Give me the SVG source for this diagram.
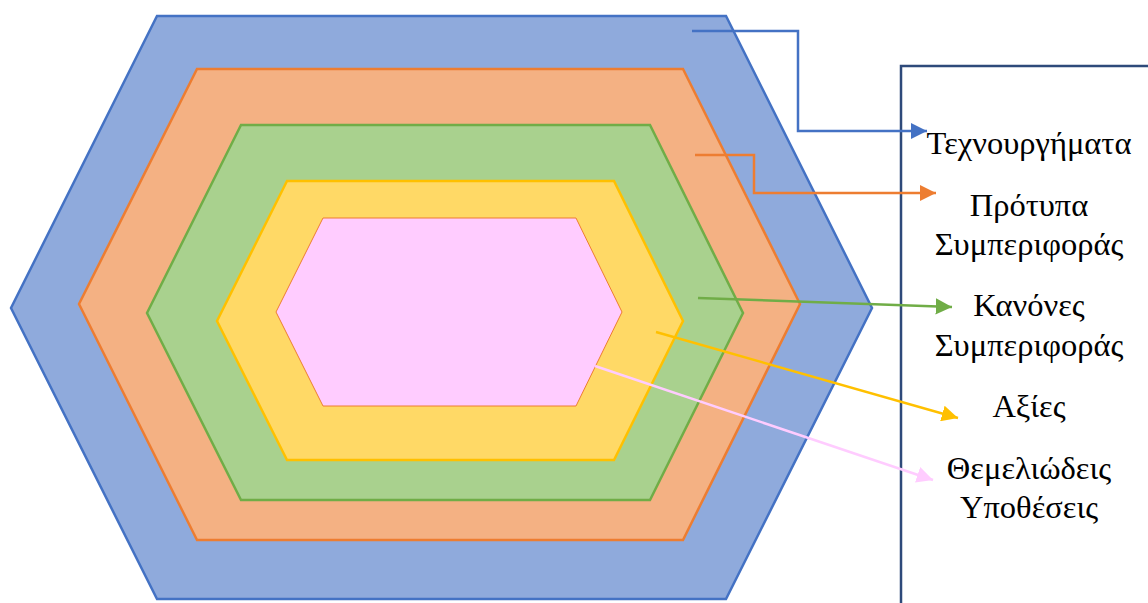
<svg xmlns="http://www.w3.org/2000/svg" width="1148" height="603" viewBox="0 0 1148 603">
<style>
.lbl{font-family:"Liberation Serif","DejaVu Serif",serif;font-size:32.5px;fill:#000;text-anchor:middle}
.conn{fill:none;stroke-width:2.5}
</style>
<defs>
<marker id="aB" viewBox="0 0 10 10" refX="10" refY="5" markerWidth="6.5" markerHeight="6.5" markerUnits="strokeWidth" orient="auto"><path d="M0,0 L10,5 L0,10 z" fill="#4472C4"/></marker>
<marker id="aO" viewBox="0 0 10 10" refX="10" refY="5" markerWidth="6.5" markerHeight="6.5" markerUnits="strokeWidth" orient="auto"><path d="M0,0 L10,5 L0,10 z" fill="#ED7D31"/></marker>
<marker id="aG" viewBox="0 0 10 10" refX="10" refY="5" markerWidth="6.5" markerHeight="6.5" markerUnits="strokeWidth" orient="auto"><path d="M0,0 L10,5 L0,10 z" fill="#70AD47"/></marker>
<marker id="aY" viewBox="0 0 10 10" refX="10" refY="5" markerWidth="6.5" markerHeight="6.5" markerUnits="strokeWidth" orient="auto"><path d="M0,0 L10,5 L0,10 z" fill="#FFC000"/></marker>
<marker id="aP" viewBox="0 0 10 10" refX="10" refY="5" markerWidth="6.5" markerHeight="6.5" markerUnits="strokeWidth" orient="auto"><path d="M0,0 L10,5 L0,10 z" fill="#FFCCFF"/></marker>
</defs>
<rect width="1148" height="603" fill="#fff"/>
<g id="box"><rect x="901" y="66" width="260" height="560" fill="none" stroke="#2E4A7A" stroke-width="2.5"/></g>
<g id="hex-blue"><polygon points="157,16 726,16 872,308 726,599 157,599 11,308" fill="#8FAADC" stroke="#4472C4" stroke-width="2.5"/></g>
<g id="hex-orange"><polygon points="197,69 683,69 800,304 683,540 197,540 79,304" fill="#F4B183" stroke="#ED7D31" stroke-width="2.5"/></g>
<g id="hex-green"><polygon points="241,125 650,125 743,313 650,500 241,500 147,313" fill="#A9D18E" stroke="#70AD47" stroke-width="2.5"/></g>
<g id="hex-yellow"><polygon points="287,181 614,181 683,321 614,460 287,460 217,321" fill="#FFD966" stroke="#FFC000" stroke-width="2.5"/></g>
<g id="hex-pink"><polygon points="323,218 576,218 622,312 576,406 323,406 276,312" fill="#FFCCFF" stroke="#ED7D31" stroke-width="1"/></g>
<g id="connectors">
<polyline class="conn" points="692,31 798,31 798,131 927,131" stroke="#4472C4" marker-end="url(#aB)"/>
<polyline class="conn" points="695,155 754,155 754,193 936,193" stroke="#ED7D31" marker-end="url(#aO)"/>
<line class="conn" x1="698" y1="298" x2="952" y2="307" stroke="#70AD47" marker-end="url(#aG)"/>
<line class="conn" x1="656" y1="332" x2="958" y2="418" stroke="#FFC000" marker-end="url(#aY)"/>
<line class="conn" x1="595" y1="366" x2="933" y2="480" stroke="#FFCCFF" marker-end="url(#aP)"/>
</g>
<g id="labels">
<text class="lbl" x="1029" y="154">Τεχνουργήματα</text>
<text class="lbl" x="1029" y="216">Πρότυπα</text>
<text class="lbl" x="1029" y="255">Συμπεριφοράς</text>
<text class="lbl" x="1029" y="316">Κανόνες</text>
<text class="lbl" x="1029" y="356">Συμπεριφοράς</text>
<text class="lbl" x="1029" y="417">Αξίες</text>
<text class="lbl" x="1029" y="479">Θεμελιώδεις</text>
<text class="lbl" x="1029" y="518">Υποθέσεις</text>
</g>
</svg>
